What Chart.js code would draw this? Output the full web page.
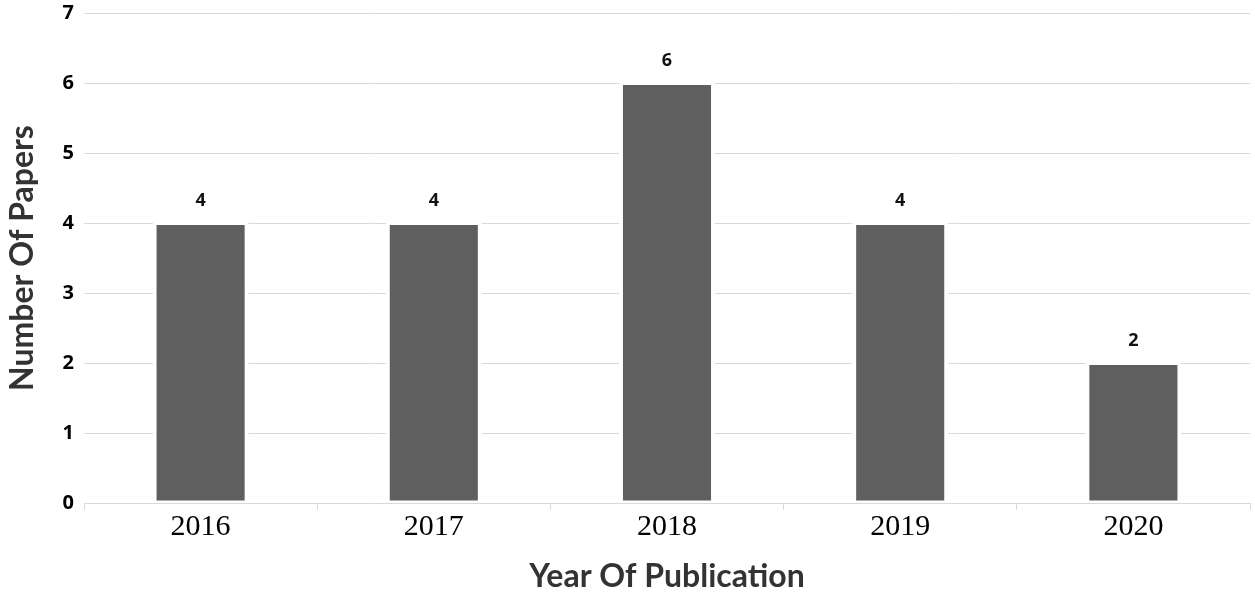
<!DOCTYPE html>
<html>
<head>
<meta charset="utf-8">
<script src="https://cdn.jsdelivr.net/npm/chart.js@4/dist/chart.umd.min.js"></script>
<style>
html,body{margin:0;padding:0;background:#fff;}
#wrap{width:1255px;height:597px;position:relative;}
</style>
</head>
<body>
<div id="wrap"><canvas id="c" width="1255" height="597"></canvas></div>
<script>
const categories = ['2016', '2017', '2018', '2019', '2020'];
const paperCounts = [4, 4, 6, 4, 2];
const yTickValues = [0, 1, 2, 3, 4, 5, 6, 7];
const xAxisTitle = 'Year Of Publication';
const yAxisTitle = 'Number Of Papers';

const valueLabels = {
  id: 'valueLabels',
  afterDatasetsDraw(chart) {
    const ctx = chart.ctx;
    const meta = chart.getDatasetMeta(0);
    ctx.save();
    ctx.font = 'bold 18px "Open Sans"';
    ctx.fillStyle = '#111';
    ctx.textAlign = 'center';
    ctx.textBaseline = 'middle';
    meta.data.forEach((bar, i) => {
      ctx.fillText(String(paperCounts[i]), bar.x, bar.y - 22);
    });
    ctx.restore();
  }
};

new Chart(document.getElementById('c'), {
  type: 'bar',
  data: {
    labels: categories,
    datasets: [{
      data: paperCounts,
      backgroundColor: '#5f5f5f',
      borderColor: '#ffffff',
      borderWidth: {left: 4, right: 4, top: 2, bottom: 2},
      borderSkipped: false,
      categoryPercentage: 1,
      barPercentage: 0.412
    }]
  },
  options: {
    responsive: false,
    animation: false,
    devicePixelRatio: 1,
    layout: {padding: {top: 13, right: 5, left: 0, bottom: 0}},
    plugins: {legend: {display: false}, tooltip: {enabled: false}},
    scales: {
      x: {
        offset: true,
        grid: {display: true, offset: true, drawOnChartArea: false, drawTicks: true, tickLength: 7, color: '#d9d9d9'},
        border: {display: true, color: '#d9d9d9', width: 1},
        ticks: {color: '#000', font: {family: '"Liberation Serif", "Times New Roman", serif', size: 30}, padding: -1},
        title: {display: true, text: xAxisTitle, color: '#333', font: {family: 'Lato', size: 32, weight: 'bold'}, padding: {top: 0, bottom: 1}},
        afterFit(scale) { scale.height = 94; scale.paddingLeft = 0; scale.paddingRight = 0; }
      },
      y: {
        min: 0, max: 7,
        afterBuildTicks(scale) { scale.ticks = yTickValues.map(v => ({value: v})); },
        grid: {color: '#d9d9d9', drawTicks: false},
        border: {display: false},
        ticks: {color: '#000', font: {family: '"Open Sans"', size: 20, weight: 'bold'}, padding: 10},
        title: {display: true, text: yAxisTitle, color: '#333', font: {family: 'Lato', size: 32, weight: 'bold'}, padding: {top: 3, bottom: 0}},
        afterFit(scale) { scale.width = 84; scale.paddingTop = 0; scale.paddingBottom = 0; }
      }
    }
  },
  plugins: [valueLabels]
});
</script>
</body>
</html>
